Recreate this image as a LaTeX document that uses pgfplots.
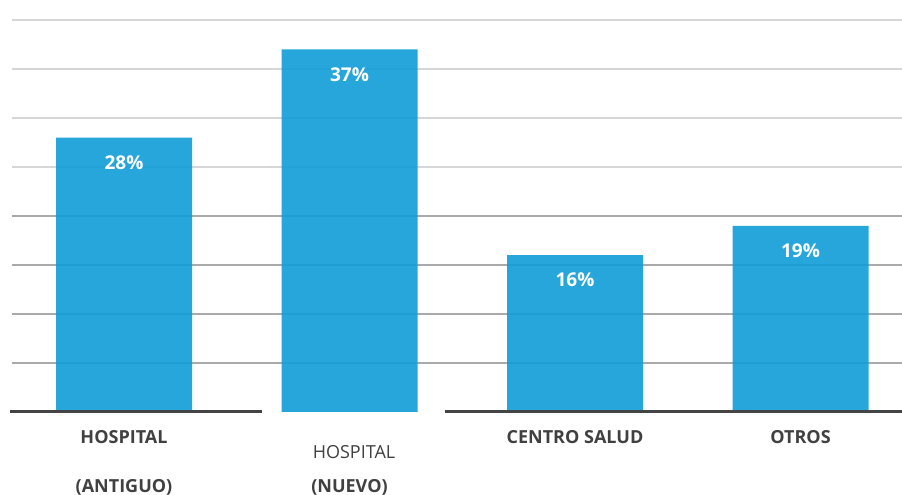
\documentclass[border=0pt]{standalone}
\usepackage{pgfplots}
\pgfplotsset{compat=1.18}
\usepackage{fontspec}
\setmainfont{Open Sans}
\definecolor{barblue}{RGB}{15,157,215}
\definecolor{txt}{RGB}{64,64,64}
\definecolor{gridA}{RGB}{232,232,232}
\definecolor{gridB}{RGB}{214,214,214}
\definecolor{gridC}{RGB}{170,170,170}
\definecolor{basec}{RGB}{68,68,68}
\begin{document}
\begin{tikzpicture}
\fill[white] (0,0) rectangle (902pt,495pt);
\path[use as bounding box] (0,0) rectangle (902pt,495pt);
\begin{axis}[
  at={(12pt,83pt)}, anchor=south west,
  scale only axis, width=890pt, height=392pt,
  xmin=-0.4967, xmax=3.4501, ymin=0, ymax=40,
  axis line style={draw=none},
  xtick=\empty, xticklabels={},
  ytick={25,30,35}, yticklabels={},
  minor ytick={5,10,15,20},
  extra y ticks={40}, extra y tick labels={},
  extra y tick style={grid style={draw=gridA, line width=1.6pt}},
  major tick length=0pt, minor tick length=0pt,
  ymajorgrids, yminorgrids,
  major grid style={draw=gridB, line width=1.6pt},
  minor grid style={draw=gridC, line width=1.6pt},
  clip=false,
  /pgf/number format/assume math mode=true,
]
\addplot[ybar, bar width=136pt, fill=barblue, fill opacity=0.9, draw=none,
  point meta=y,
  nodes near coords={\textbf{\pgfmathprintnumber{\pgfplotspointmeta}\%}},
  every node near coord/.append style={anchor=center, yshift=-25pt, text=white, text opacity=1, font=\fontsize{19pt}{22pt}\selectfont}]
  coordinates {(0,28) (1,37) (2,16) (3,19)};
\draw[basec, line width=3pt] (axis cs:-0.5055,0) -- (axis cs:0.612,0);
\draw[basec, line width=3pt] (axis cs:1.4235,0) -- (axis cs:3.4501,0);
\begin{scope}[every node/.style={text=txt, anchor=base, font=\fontsize{18pt}{21pt}\selectfont}]
\node at (axis cs:0,0) [yshift=-31pt] {\textbf{HOSPITAL}};
\node at (axis cs:0,0) [yshift=-80pt] {\textbf{(ANTIGUO)}};
\node at (axis cs:1.02,0) [yshift=-46pt] {HOSPITAL};
\node at (axis cs:1,0) [yshift=-80pt] {\textbf{(NUEVO)}};
\node at (axis cs:2,0) [yshift=-31pt] {\textbf{CENTRO SALUD}};
\node at (axis cs:3,0) [yshift=-31pt] {\textbf{OTROS}};
\end{scope}
\end{axis}
\end{tikzpicture}
\end{document}
